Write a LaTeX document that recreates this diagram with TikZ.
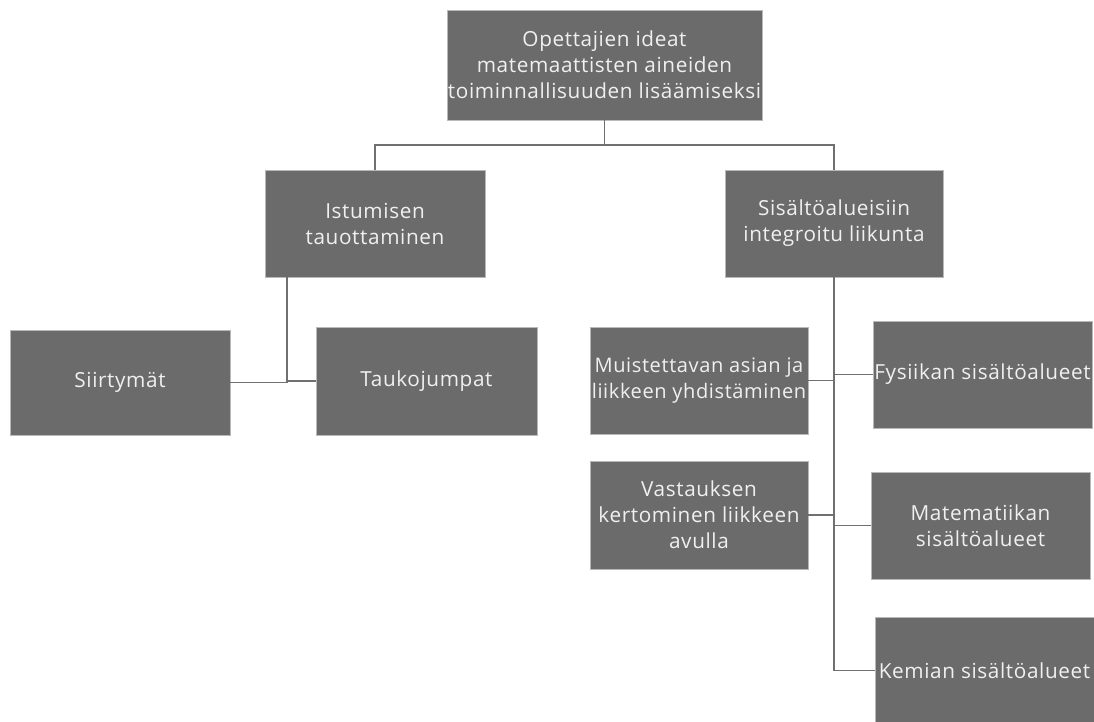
\documentclass[tikz,border=0pt]{standalone}
\usepackage{fontspec}
\setmainfont{Open Sans}[LetterSpace=3]
\definecolor{boxgray}{HTML}{6B6B6B}
\definecolor{linegray}{HTML}{707070}
\definecolor{textgray}{HTML}{F0F0F0}

\begin{document}
\begin{tikzpicture}[
    box/.style={fill=boxgray, draw=gray!55, line width=0.4pt, text=textgray,
        minimum width=4.38cm, minimum height=2.14cm, align=center,
        font=\fontsize{11.8}{14.8}\selectfont, inner sep=0pt},
    link/.style={draw=linegray, line width=1.1pt}
]
    \useasboundingbox (0,0) rectangle (21.88,-14.44);

    % Top box
    \node[box, minimum width=6.3cm, minimum height=2.2cm] (ideas) at (12.09,-1.3)
        {Opettajien ideat\\matemaattisten aineiden\\toiminnallisuuden lisäämiseksi};

    % Second level
    \node[box, minimum width=4.4cm] (sitting) at (7.5,-4.47) {Istumisen\\tauottaminen};
    \node[box, minimum width=4.36cm] (content) at (16.68,-4.47) {Sisältöalueisiin\\integroitu liikunta};

    % Under sitting breaks
    \node[box, minimum width=4.4cm, minimum height=2.1cm] (transitions) at (2.4,-7.65) {Siirtymät};
    \node[box, minimum width=4.42cm, minimum height=2.16cm] (breakgym) at (8.53,-7.62) {Taukojumpat};

    % Under integrated movement
    \node[box, minimum width=4.36cm, font=\fontsize{11.4}{14.8}\selectfont] (memorize) at (13.98,-7.61)
        {Muistettavan asian ja\\liikkeen yhdistäminen};
    \node[box, minimum width=4.36cm, minimum height=2.16cm] (answer) at (13.98,-10.3)
        {Vastauksen\\kertominen liikkeen\\avulla};
    \node[box] (physics) at (19.65,-7.49) {Fysiikan sisältöalueet};
    \node[box] (maths) at (19.61,-10.51) {Matematiikan\\sisältöalueet};
    \node[box] (chem) at (19.69,-13.41) {Kemian sisältöalueet};

    % Connectors from the top
    \draw[link] (ideas.south) -- ++(0,-0.5) -| (sitting.north);
    \draw[link] (ideas.south) -- ++(0,-0.5) -| (content.north);

    % Connectors for sitting breaks
    \draw[link] ([xshift=0.44cm]sitting.south west) |- (transitions.east);
    \draw[link] ([xshift=0.44cm]sitting.south west) |- (breakgym.west);

    % Connectors for integrated movement
    \draw[link] (content.south) |- (memorize.east);
    \draw[link] (content.south) |- (answer.east);
    \draw[link] (content.south) |- (physics.west);
    \draw[link] (content.south) |- (maths.west);
    \draw[link] (content.south) |- (chem.west);
\end{tikzpicture}
\end{document}
